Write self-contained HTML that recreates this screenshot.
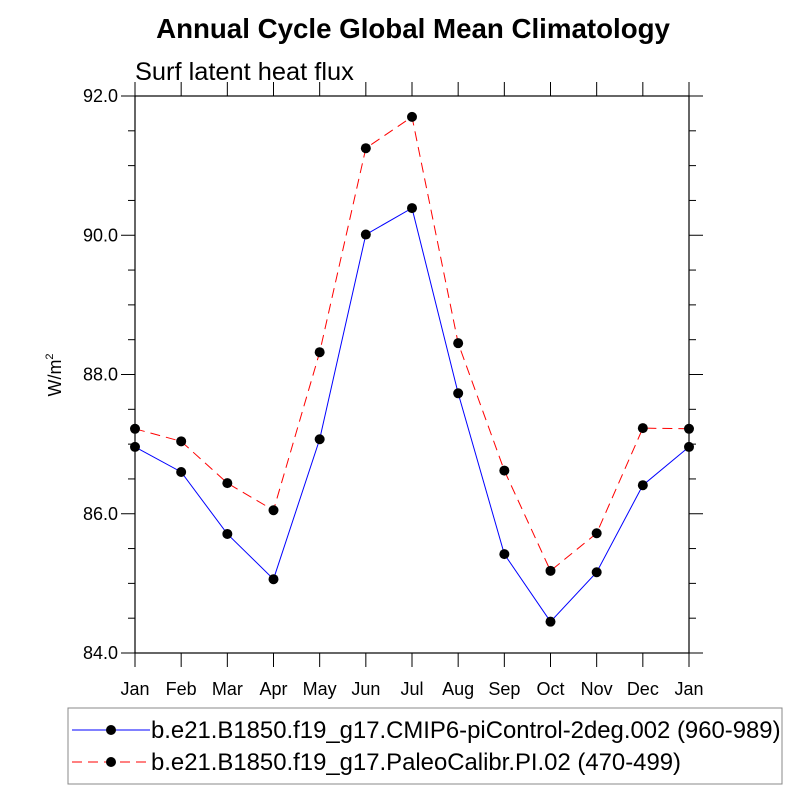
<!DOCTYPE html>
<html><head><meta charset="utf-8"><style>body{margin:0;background:#fff}svg{display:block}text{font-family:"Liberation Sans",sans-serif}</style></head>
<body>
<svg id="chart" width="800" height="800" xmlns="http://www.w3.org/2000/svg">
<text x="413" y="38" font-size="27.7" font-weight="bold" text-anchor="middle">Annual Cycle Global Mean Climatology</text>
<text x="135" y="80" font-size="25.4">Surf latent heat flux</text>
<text transform="translate(61,375) rotate(-90)" font-size="18" text-anchor="middle">W/m<tspan font-size="11" dy="-8">2</tspan></text>
<rect x="135" y="96" width="554" height="557" fill="none" stroke="#000" stroke-width="1.2"/>
<g id="axes"></g>
<g id="series"></g>
<rect x="68" y="708" width="714" height="76" fill="none" stroke="#888" stroke-width="1"/>
<line x1="72" y1="730" x2="150" y2="730" stroke="#0000ff" stroke-width="1"/>
<circle cx="111" cy="730" r="5" fill="#000"/>
<text x="151" y="738" font-size="23.9">b.e21.B1850.f19_g17.CMIP6-piControl-2deg.002 (960-989)</text>
<line x1="72" y1="762" x2="150" y2="762" stroke="#ff0000" stroke-width="1" stroke-dasharray="10,6"/>
<circle cx="111" cy="762" r="5" fill="#000"/>
<text x="151" y="770" font-size="23.9">b.e21.B1850.f19_g17.PaleoCalibr.PI.02 (470-499)</text>
</svg>
<script>
const months=["Jan","Feb","Mar","Apr","May","Jun","Jul","Aug","Sep","Oct","Nov","Dec","Jan"];
const controlValues=[86.96,86.60,85.71,85.06,87.07,90.01,90.39,87.73,85.42,84.45,85.16,86.41,86.96];
const paleoValues=[87.22,87.04,86.44,86.05,88.32,91.25,91.70,88.45,86.62,85.18,85.72,87.23,87.22];
const yTicks=[84,86,88,90,92];
const yTickLabels=["84.0","86.0","88.0","90.0","92.0"];
const X0=135,X1=689,Y0=653,Y1=96,YMIN=84,YMAX=92;
const xs=i=>X0+(X1-X0)*i/(months.length-1);
const ys=v=>Y0-(v-YMIN)/(YMAX-YMIN)*(Y0-Y1);
const NS="http://www.w3.org/2000/svg";
function mk(tag,attrs,parent){const e=document.createElementNS(NS,tag);for(const k in attrs)e.setAttribute(k,attrs[k]);parent.appendChild(e);return e;}
const ax=document.getElementById('axes'),sr=document.getElementById('series');
months.forEach((m,i)=>{const x=xs(i);
 let t=mk('line',{x1:x,y1:Y0,x2:x,y2:Y0+14,stroke:'#000'},ax);
 
 
 t=mk('line',{x1:x,y1:Y1,x2:x,y2:Y1-14,stroke:'#000'},ax);
 
 
 const l=mk('text',{x:x,y:Y0+42,'font-size':18,'text-anchor':'middle'},ax);l.textContent=m;
 
 
});
for(let v=YMIN;v<=YMAX+1e-9;v+=0.5){const y=ys(v);const major=Math.abs(v%2)<1e-9;const len=major?14:7;
 let t=mk('line',{x1:X0-len,y1:y,x2:X0,y2:y,stroke:'#000'},ax);
 
 
 t=mk('line',{x1:X1,y1:y,x2:X1+len,y2:y,stroke:'#000'},ax);
 
 
}
yTicks.forEach((v,i)=>{const l=mk('text',{x:X0-17,y:ys(v)+6,'font-size':18,'text-anchor':'end'},ax);l.textContent=yTickLabels[i];
 
 
});
function series(vals,color,dash,name){
 const p=mk('polyline',{points:vals.map((v,i)=>xs(i)+','+ys(v)).join(' '),fill:'none',stroke:color,'stroke-width':1,'stroke-dasharray':dash},sr);
 
 
 vals.forEach((v,i)=>{const c=mk('circle',{cx:xs(i),cy:ys(v),r:5,fill:'#000'},sr);
  
  
 });
}
series(controlValues,'#0000ff','none','control');
series(paleoValues,'#ff0000','10,6','paleo');
</script>
</body></html>
